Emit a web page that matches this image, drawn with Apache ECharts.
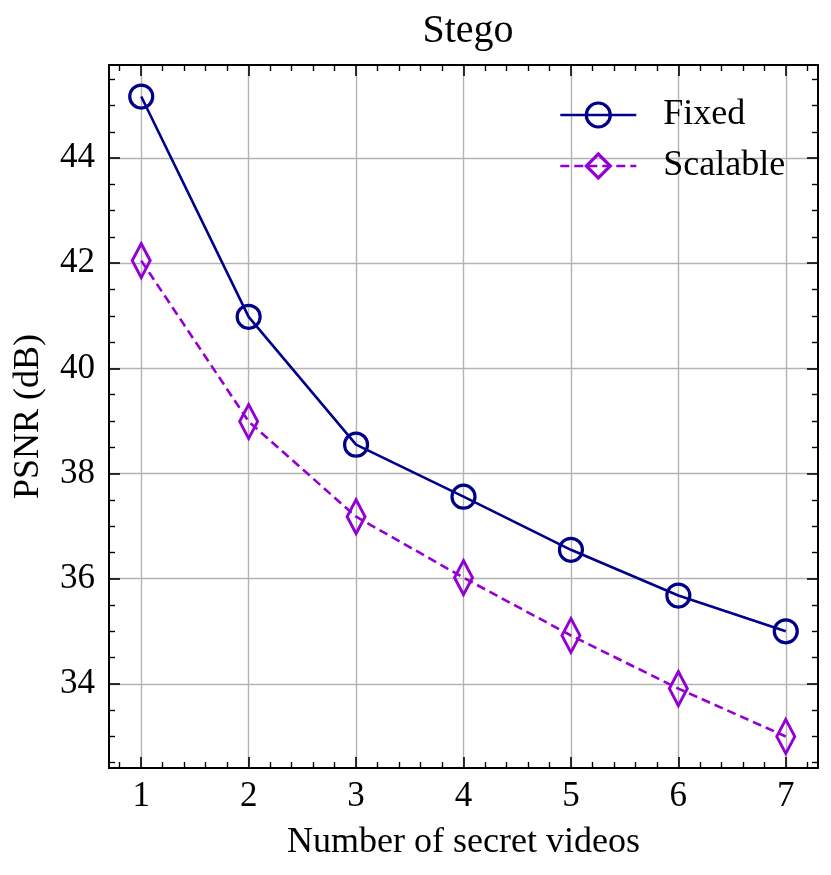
<!DOCTYPE html>
<html>
<head>
<meta charset="utf-8">
<script src="https://cdn.jsdelivr.net/npm/echarts@6/dist/echarts.min.js"></script>
<style>
  html, body { margin: 0; padding: 0; background: #fff; }
  #main { width: 831px; height: 875px; }
</style>
</head>
<body>
<div id="main"></div>
<script>
var secret_videos = [1, 2, 3, 4, 5, 6, 7];
var fixed_psnr = [45.17, 40.98, 38.55, 37.56, 36.55, 35.68, 35.00];
var scalable_psnr = [42.05, 38.99, 37.18, 36.02, 34.92, 33.91, 33.00];

var font = "'Liberation Serif', 'Times New Roman', serif";

function pairs(xs, ys){
  var out = [];
  for (var i = 0; i < xs.length; i++) out.push([xs[i], ys[i]]);
  return out;
}

function intLabel(v){
  return Math.abs(v - Math.round(v)) < 1e-6 ? String(Math.round(v)) : '';
}

var myChart = echarts.init(document.getElementById('main'));

var tickStyle = { show: true, inside: true, length: 11, lineStyle: { color: '#000', width: 1.6 } };
var minorLine = { color: '#000', width: 1.4 };
var axisLine = { show: true, onZero: false, lineStyle: { color: '#000', width: 2 } };

var option = {
  backgroundColor: '#fff',
  animation: false,
  title: {
    text: 'Stego',
    left: 463,
    textAlign: 'center',
    top: 6,
    textStyle: { fontFamily: font, fontSize: 40, fontWeight: 'normal', color: '#000' }
  },
  legend: {
    left: 559,
    top: 97,
    padding: 0,
    orient: 'vertical',
    itemWidth: 76,
    itemHeight: 30,
    itemGap: 15,
    itemStyle: { borderWidth: 3.2 },
    lineStyle: { width: 2.6 },
    textStyle: { fontFamily: font, fontSize: 36, color: '#000', padding: [0, 0, 0, 22] },
    data: ['Fixed', 'Scalable']
  },
  grid: { left: 109, right: 13, top: 65, bottom: 107, containLabel: false },
  xAxis: [
    {
      type: 'value',
      position: 'bottom',
      min: 0.7, max: 7.3,
      minInterval: 1, maxInterval: 1, splitNumber: 6,
      name: 'Number of secret videos',
      nameLocation: 'middle',
      nameGap: 57,
      nameTextStyle: { fontFamily: font, fontSize: 36, color: '#000' },
      axisLine: axisLine,
      axisTick: tickStyle,
      minorTick: { show: true, splitNumber: 5, length: 6, lineStyle: minorLine },
      axisLabel: { fontFamily: font, fontSize: 35, color: '#000', margin: 11,
        showMinLabel: false, showMaxLabel: false, formatter: intLabel },
      splitLine: { show: true, showMinLine: false, showMaxLine: false, lineStyle: { color: '#b3b3b3', width: 1.4 } }
    },
    {
      type: 'value',
      position: 'top',
      min: 0.7, max: 7.3,
      minInterval: 1, maxInterval: 1, splitNumber: 6,
      axisLine: axisLine,
      axisTick: tickStyle,
      minorTick: { show: true, splitNumber: 5, length: 6, lineStyle: minorLine },
      axisLabel: { show: false },
      splitLine: { show: false }
    }
  ],
  yAxis: [
    {
      type: 'value',
      position: 'left',
      min: 32.4, max: 45.77,
      minInterval: 2, maxInterval: 2, splitNumber: 7,
      name: 'PSNR (dB)',
      nameLocation: 'middle',
      nameGap: 62,
      nameTextStyle: { fontFamily: font, fontSize: 36, color: '#000' },
      axisLine: axisLine,
      axisTick: tickStyle,
      minorTick: { show: true, splitNumber: 4, length: 6, lineStyle: minorLine },
      axisLabel: { fontFamily: font, fontSize: 35, color: '#000', margin: 14,
        showMinLabel: false, showMaxLabel: false, formatter: intLabel },
      splitLine: { show: true, showMinLine: false, showMaxLine: false, lineStyle: { color: '#b3b3b3', width: 1.4 } }
    },
    {
      type: 'value',
      position: 'right',
      min: 32.4, max: 45.77,
      minInterval: 2, maxInterval: 2, splitNumber: 7,
      axisLine: axisLine,
      axisTick: tickStyle,
      minorTick: { show: true, splitNumber: 4, length: 6, lineStyle: minorLine },
      axisLabel: { show: false },
      splitLine: { show: false }
    }
  ],
  series: [
    {
      name: 'Fixed',
      type: 'line',
      xAxisIndex: 0,
      yAxisIndex: 0,
      data: pairs(secret_videos, fixed_psnr),
      symbol: 'circle',
      symbolSize: 23,
      lineStyle: { color: '#00008b', width: 2.6 },
      itemStyle: { color: 'rgba(0,0,0,0)', borderColor: '#00008b', borderWidth: 3.2 },
      z: 3
    },
    {
      name: 'Scalable',
      type: 'line',
      xAxisIndex: 0,
      yAxisIndex: 0,
      data: pairs(secret_videos, scalable_psnr),
      symbol: 'diamond',
      symbolSize: [18, 34],
      lineStyle: { color: '#9400d3', width: 2.6, type: [9, 5] },
      itemStyle: { color: 'rgba(0,0,0,0)', borderColor: '#9400d3', borderWidth: 3.2 },
      z: 3
    }
  ]
};

myChart.setOption(option);
</script>
</body>
</html>
